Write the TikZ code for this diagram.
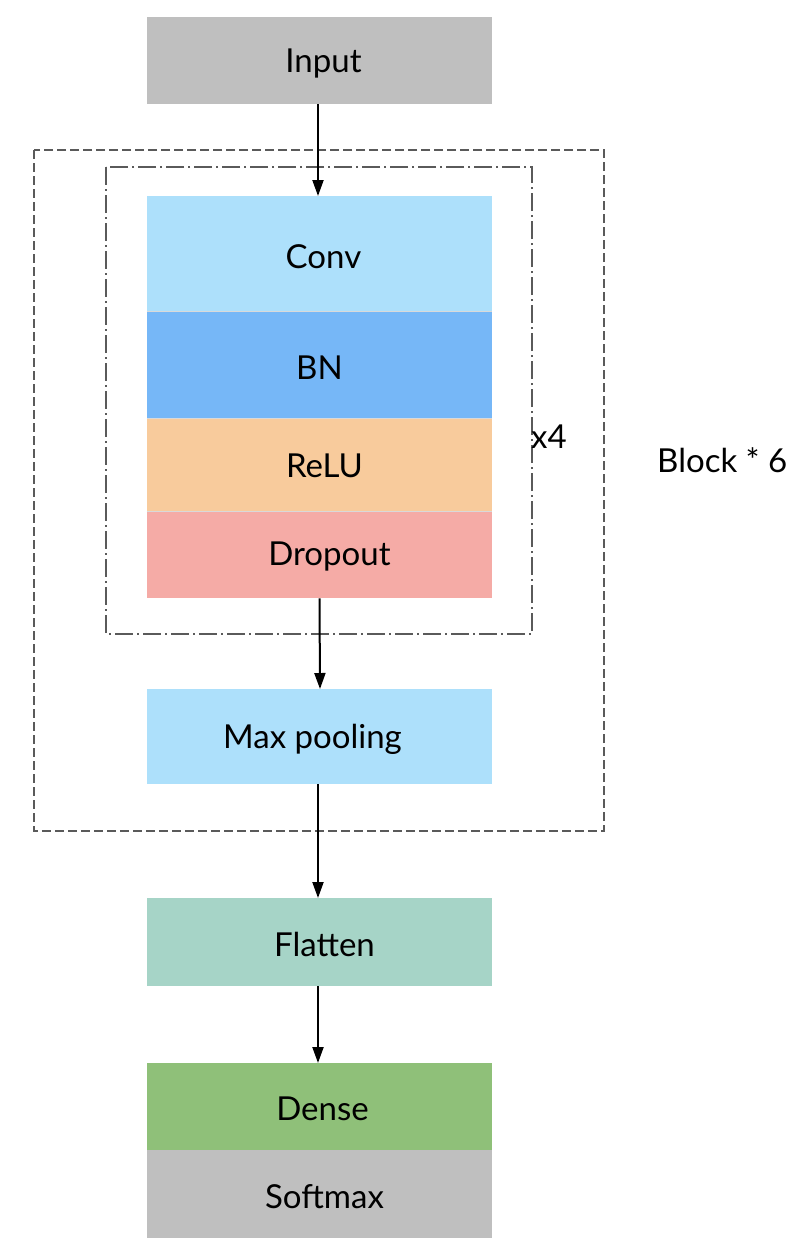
\documentclass[tikz,border=0pt]{standalone}
\usepackage{fontspec}
\setmainfont{Lato}
\usetikzlibrary{arrows.meta}
\definecolor{cgray}{HTML}{BFBFBF}
\definecolor{cconv}{HTML}{ADE0FB}
\definecolor{cbn}{HTML}{76B7F7}
\definecolor{crelu}{HTML}{F8CB9C}
\definecolor{cdrop}{HTML}{F5ABA6}
\definecolor{cflat}{HTML}{A6D4C7}
\definecolor{cdense}{HTML}{8FC079}
\definecolor{cframe}{HTML}{5A5A5A}
\tikzset{
  layer/.style={fill=#1, draw=none, minimum width=345pt, inner sep=0pt, anchor=north},
  ltext/.style={font=\fontsize{33}{40}\selectfont, inner sep=0pt, anchor=center},
  conn/.style={-{Triangle[length=16pt,width=11pt]}, line width=2pt, black},
  outerframe/.style={draw=cframe, line width=2pt, dash pattern=on 9pt off 4pt},
  innerframe/.style={draw=cframe, line width=2pt, dash pattern=on 18pt off 4pt on 2pt off 4pt},
  lbl/.style={font=\fontsize{33}{40}\selectfont, inner sep=0pt}
}
\begin{document}
\begin{tikzpicture}[x=1pt,y=-1pt]
\useasboundingbox (0,0) rectangle (808,1248);
% frames
\draw[outerframe] (34,150) rectangle (604,831);
\draw[innerframe] (106,167) rectangle (532,634);
% layers
\node[layer=cgray, minimum height=87pt] (input) at (319.5,17) {};
\node[layer=cconv, minimum height=115pt] (conv) at (319.5,196) {};
\node[layer=cbn, minimum height=107pt] (bn) at (319.5,311) {};
\node[layer=crelu, minimum height=93pt] (relu) at (319.5,418) {};
\node[layer=cdrop, minimum height=87pt] (drop) at (319.5,511) {};
\node[layer=cconv, minimum height=95pt] (pool) at (319.5,689) {};
\node[layer=cflat, minimum height=88pt] (flat) at (319.5,898) {};
\node[layer=cdense, minimum height=87pt] (dense) at (319.5,1063) {};
\node[layer=cgray, minimum height=88pt] (soft) at (319.5,1150) {};
% layer texts
\node[ltext] (tinput) at ([xshift=4pt,yshift=-3pt]input.center) {Input};
\node[ltext] (tconv) at ([xshift=4pt,yshift=-3pt]conv.center) {Conv};
\node[ltext] (tbn) at ([yshift=-3pt]bn.center) {BN};
\node[ltext] (trelu) at ([xshift=5pt,yshift=-1pt]relu.center) {ReLU};
\node[ltext] (tdrop) at ([xshift=10pt,yshift=-2pt]drop.center) {Dropout};
\node[ltext] (tpool) at ([xshift=-7pt,yshift=-3pt]pool.center) {Max pooling};
\node[ltext] (tflat) at ([xshift=5pt,yshift=-2pt]flat.center) {Flatten};
\node[ltext] (tdense) at ([xshift=3pt,yshift=-2pt]dense.center) {Dense};
\node[ltext] (tsoft) at ([xshift=5pt,yshift=-2pt]soft.center) {Softmax};
% thin separators between stacked layers
\draw[white!85!black, line width=0.6pt] (conv.south west) -- (conv.south east);
\draw[white!85!black, line width=0.6pt] (bn.south west) -- (bn.south east);
\draw[white!85!black, line width=0.6pt] (relu.south west) -- (relu.south east);
% labels
\node[lbl, anchor=west] (x4) at (531,437) {x4};
\node[lbl, anchor=west] (block) at (657,460) {Block * 6};
% connectors
\draw[conn] ([xshift=-1.5pt]input.south) -- ([xshift=-1.5pt]conv.north);
\draw[conn] (drop.south) -- ([xshift=0.5pt]pool.north);
\draw[conn] ([xshift=-1.5pt]pool.south) -- ([xshift=-1.5pt]flat.north);
\draw[conn] ([xshift=-1.5pt]flat.south) -- ([xshift=-1.5pt]dense.north);
\end{tikzpicture}
\end{document}
